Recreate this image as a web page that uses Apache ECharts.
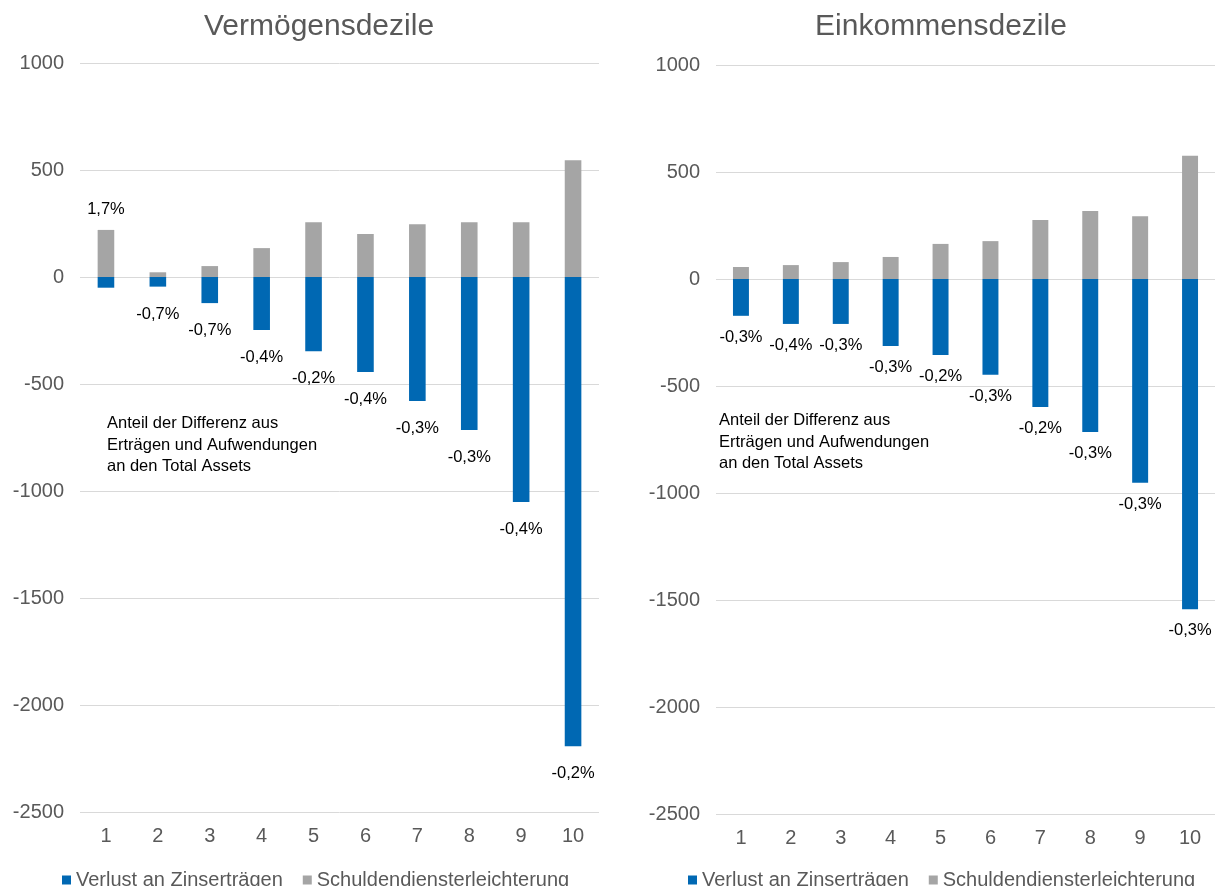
<!DOCTYPE html>
<html><head><meta charset="utf-8">
<script src="https://cdn.jsdelivr.net/npm/echarts@6/dist/echarts.min.js"></script>
<style>html,body{margin:0;padding:0;background:#fff}#c{width:1222px;height:886px}</style>
</head><body><div id="c"></div>
<script>
const categories = ['1','2','3','4','5','6','7','8','9','10'];
const seriesNames = ['Verlust an Zinserträgen','Schuldendiensterleichterung'];
const titles = ['Vermögensdezile','Einkommensdezile'];
const noteText = 'Anteil der Differenz aus\nErträgen und Aufwendungen\nan den Total Assets';
// Vermögensdezile
const vermVerlust = [-50,-45,-122,-248,-347,-444,-579,-715,-1051,-2193];
const vermSchuld  = [220,22,51,135,256,201,247,256,256,546];
const vermPct     = ['1,7%','-0,7%','-0,7%','-0,4%','-0,2%','-0,4%','-0,3%','-0,3%','-0,4%','-0,2%'];
// Einkommensdezile
const einkVerlust = [-172,-210,-210,-313,-355,-447,-598,-715,-952,-1543];
const einkSchuld  = [56,65,79,103,164,177,276,318,293,576];
const einkPct     = ['-0,3%','-0,4%','-0,3%','-0,3%','-0,2%','-0,3%','-0,2%','-0,3%','-0,3%','-0,3%'];
const yTicks = {min:-2500, max:1000, interval:500};

const BLUE = '#0068B3', GRAY = '#A5A5A5', TXT = '#595959';
const FONT = 'Liberation Sans, Arial, sans-serif';

const grids = [
  {left:80, top:63, width:519, height:749},
  {left:716, top:65, width:499, height:749}
];
const labelDist = [19, 13];

function mkSeries(idx, verlust, schuld, pct){
  const lbl = (pos, keep) => ({
    show:true, position:pos, distance: pos==='top'?12:labelDist[idx],
    color:'#000', fontSize:16.5, fontFamily:FONT,
    formatter: p => keep(pct[p.dataIndex]) ? pct[p.dataIndex] : ''
  });
  return [
    {name:seriesNames[0], type:'bar', stack:'s'+idx, xAxisIndex:idx, yAxisIndex:idx,
     data:verlust, barWidth:'32%', itemStyle:{color:BLUE},
     label: lbl('bottom', s => s.startsWith('-')) },
    {name:seriesNames[1], type:'bar', stack:'s'+idx, xAxisIndex:idx, yAxisIndex:idx,
     data:schuld, barWidth:'32%', itemStyle:{color:GRAY},
     label: lbl('top', s => !s.startsWith('-')) }
  ];
}

const chart = echarts.init(document.getElementById('c'), null, {renderer:'canvas'});
const xAxes = grids.map((g,i)=>({
  type:'category', gridIndex:i, data:categories,
  axisLine:{show:false}, axisTick:{show:false},
  axisLabel:{color:TXT, fontSize:20, fontFamily:FONT, margin:14}
}));
const yAxes = grids.map((g,i)=>({
  type:'value', gridIndex:i, min:yTicks.min, max:yTicks.max, interval:yTicks.interval,
  axisLine:{show:false}, axisTick:{show:false},
  axisLabel:{color:TXT, fontSize:20, fontFamily:FONT, margin:16, formatter: v => String(v)},
  splitLine:{lineStyle:{color:'#D9D9D9', width:1}}
}));
const legendStyle = {itemWidth:9, itemHeight:9, itemGap:20, icon:'rect',
  textStyle:{color:TXT, fontSize:20, fontFamily:FONT}};
chart.setOption({
  animation:false,
  title:[
    {text:titles[0], left:314, top:7, textAlign:'center', textStyle:{color:TXT, fontSize:30, fontWeight:'normal', fontFamily:FONT}},
    {text:titles[1], left:936, top:7, textAlign:'center', textStyle:{color:TXT, fontSize:30, fontWeight:'normal', fontFamily:FONT}}
  ],
  legend:[
    Object.assign({data:seriesNames, left:57, top:865}, legendStyle),
    Object.assign({data:seriesNames, left:683, top:865}, legendStyle)
  ],
  grid:grids,
  xAxis:xAxes,
  yAxis:yAxes,
  graphic:[
    {type:'text', left:107, top:413, style:{text:noteText, fill:'#000', font:'16.5px '+FONT, lineHeight:21.5}},
    {type:'text', left:719, top:410, style:{text:noteText, fill:'#000', font:'16.5px '+FONT, lineHeight:21.5}}
  ],
  series:[...mkSeries(0, vermVerlust, vermSchuld, vermPct), ...mkSeries(1, einkVerlust, einkSchuld, einkPct)]
});
</script></body></html>
